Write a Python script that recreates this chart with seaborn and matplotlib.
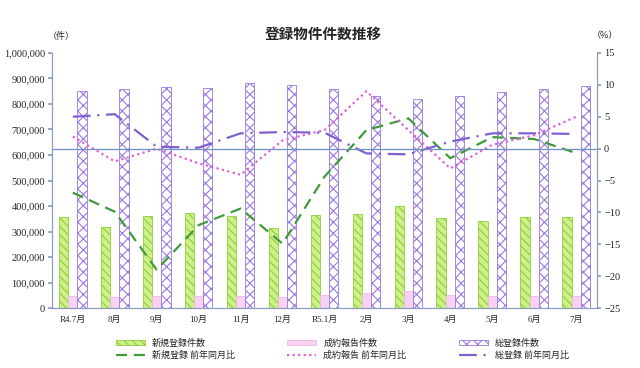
import numpy as np
import pandas as pd
import matplotlib
matplotlib.use("Agg")
import matplotlib.pyplot as plt
from matplotlib.patches import Patch
from matplotlib.lines import Line2D
import seaborn as sns

months = ["R4.7月", "8月", "9月", "10月", "11月", "12月", "R5.1月",
          "2月", "3月", "4月", "5月", "6月", "7月"]
new_reg = [358000, 319000, 361000, 374000, 361000, 312000, 366000,
           369000, 401000, 352000, 341000, 356000, 356000]
contract = [47000, 42000, 47000, 48000, 47000, 43000, 51000,
            60000, 68000, 52000, 48000, 49000, 49000]
total_reg = [851000, 859000, 867000, 863000, 882000, 873000, 859000,
             833000, 820000, 833000, 847000, 859000, 871000]
new_yoy = [-6.9, -9.9, -19.0, -12.0, -9.4, -14.9, -4.4,
           2.9, 4.75, -1.5, 1.8, 1.5, -0.7]
contract_yoy = [1.9, -2.0, 0.0, -2.3, -4.1, 1.3, 2.9,
                9.0, 2.9, -3.1, 0.6, 2.1, 5.0]
total_yoy = [5.0, 5.4, 0.3, 0.15, 2.4, 2.6, 2.5,
             -0.75, -0.9, 1.1, 2.4, 2.4, 2.3]

bar_names = ["新規登録件数", "成約報告件数", "総登録件数"]
line_names = ["新規登録 前年同月比", "成約報告 前年同月比", "総登録 前年同月比"]

sns.set_theme(style="white")
plt.rcParams["font.family"] = ["Liberation Serif", "Noto Sans CJK JP"]
plt.rcParams["hatch.linewidth"] = 0.8

bars = pd.DataFrame({
    "month": months * 3,
    "kind": [bar_names[0]] * 13 + [bar_names[1]] * 13 + [bar_names[2]] * 13,
    "count": new_reg + contract + total_reg,
})
lines = pd.DataFrame({"pos": np.arange(len(months))})
lines[line_names[0]] = new_yoy
lines[line_names[1]] = contract_yoy
lines[line_names[2]] = total_yoy

faces = ["#cdf08a", "#f9d2f1", "#ffffff"]
hatch_cols = ["#8fcf3a", "#f2b6e8", "#9a78e0"]
hatches = ["\\\\\\\\", None, "xxx"]
line_cols = ["#3f9a3a", "#e060d8", "#8060d0"]
styles = [(0, (5, 3)), (0, (1, 1.5)), (0, (8, 3, 1, 3))]
spine_col = "#8d9cc4"

fig = plt.figure(figsize=(6.4, 3.68), dpi=100)
ax = fig.add_axes([0.081, 0.163, 0.852, 0.693])

sns.barplot(data=bars, x="month", y="count", hue="kind", order=months,
            hue_order=bar_names, width=0.66, gap=0, legend=False, ax=ax)
for i, cont in enumerate(ax.containers):
    for p in cont:
        p.set_facecolor(faces[i])
        p.set_edgecolor(hatch_cols[i])
        p.set_linewidth(0.6)
        if hatches[i]:
            p.set_hatch(hatches[i])

ax.set_ylim(0, 1000000)
ax.set_yticks(np.arange(0, 1000001, 100000))
ax.set_yticklabels([f"{v:,}" for v in range(0, 1000001, 100000)], fontsize=7.5)
ax.set_xlim(-0.5, len(months) - 0.5)
ax.set_xticks(range(len(months)))
ax.set_xticklabels(months, fontsize=6.5)
ax.set_xticks(np.arange(0.5, len(months) - 0.5), minor=True)
ax.tick_params(axis="x", which="major", length=0, pad=6)
ax.tick_params(axis="x", which="minor", length=3, color=spine_col, direction="out")
ax.tick_params(axis="y", length=3, color=spine_col, direction="out", pad=2)
ax.set_xlabel("")
ax.set_ylabel("")

ax2 = ax.twinx()
for i, name in enumerate(line_names):
    sns.lineplot(data=lines, x="pos", y=name, color=line_cols[i], lw=1.6,
                 linestyle=styles[i], ax=ax2)
ax2.axhline(0, color="#6f8fc4", lw=0.9)
ax2.set_ylim(-25, 15)
ax2.set_yticks(np.arange(-25, 16, 5))
ax2.tick_params(axis="y", labelsize=7.5, length=3, color=spine_col, direction="out", pad=2)
ax2.set_ylabel("")
ax2.set_xlabel("")
ax2.set_xlim(-0.5, len(months) - 0.5)

for a in (ax, ax2):
    a.spines["top"].set_visible(False)
    for s in ("left", "right", "bottom"):
        a.spines[s].set_color(spine_col)
        a.spines[s].set_linewidth(0.8)

fig.text(0.505, 0.895, "登録物件件数推移", ha="center", fontsize=10.5,
         family=["Noto Sans CJK JP"], weight="semibold")
fig.text(0.095, 0.895, "（件）", ha="center", fontsize=6.5, family=["Noto Sans CJK JP"])
fig.text(0.945, 0.895, "（%）", ha="center", fontsize=6.5, family=["Noto Sans CJK JP"])

handles = []
for i in range(3):
    handles.append(Patch(facecolor=faces[i], edgecolor=hatch_cols[i],
                         hatch=hatches[i], lw=0.6, label=bar_names[i]))
    handles.append(Line2D([], [], color=line_cols[i], lw=1.6, linestyle=styles[i],
                          label=line_names[i]))
fig.legend(handles=handles, ncol=3, loc="lower center", bbox_to_anchor=(0.535, 0.0),
           frameon=False, prop={"family": ["Noto Sans CJK JP"], "size": 6.5},
           handlelength=3.2, handleheight=0.6, columnspacing=5.8, labelspacing=0.35)

fig.savefig("out.png", dpi=100)
